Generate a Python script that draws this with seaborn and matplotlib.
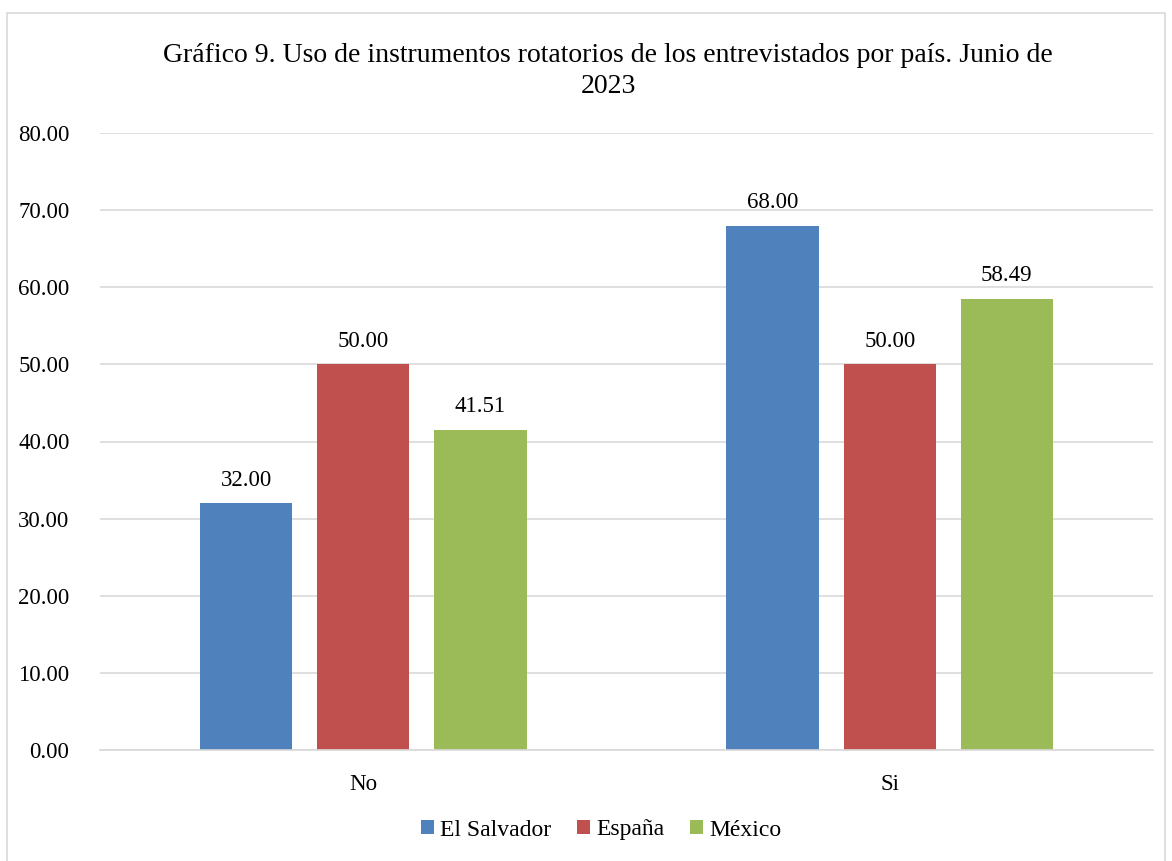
import matplotlib
matplotlib.use("Agg")
import matplotlib.pyplot as plt
import seaborn as sns
import pandas as pd
from matplotlib.patches import Rectangle

categories = ["No", "Si"]
countries = ["El Salvador", "España", "México"]
el_salvador = [32.00, 68.00]
espana = [50.00, 50.00]
mexico = [41.51, 58.49]
colors = ["#4F81BD", "#C0504D", "#9BBB59"]
yticks = [0, 10, 20, 30, 40, 50, 60, 70, 80]
title = "Gráfico 9. Uso de instrumentos rotatorios de los entrevistados por país. Junio de\n2023"

rows = []
for c, vals in zip(countries, [el_salvador, espana, mexico]):
    for cat, v in zip(categories, vals):
        rows.append({"cat": cat, "country": c, "value": v})
df = pd.DataFrame(rows)

sns.set_theme(style="white")
plt.rcParams["font.family"] = ["Liberation Serif", "DejaVu Serif"]

FS = 16.5

fig = plt.figure(figsize=(11.72, 8.61), dpi=100)
ax = fig.add_axes([100/1172, 1-750/861, 1053/1172, (750-133)/861])

sns.barplot(data=df, x="cat", y="value", hue="country", order=categories,
            hue_order=countries, palette=colors, width=0.667, gap=0.21,
            saturation=1, ax=ax, legend=True, errorbar=None, linewidth=0)

for cont in ax.containers:
    ax.bar_label(cont, fmt="%.2f", padding=9, fontsize=FS, color="#000000")

ax.set_ylim(0, 80)
ax.set_yticks(yticks)
ax.set_yticklabels([f"{v:.2f}" for v in yticks], fontsize=FS)
ax.tick_params(axis="x", labelsize=FS, pad=17, length=0, colors="#000000")
ax.tick_params(axis="y", pad=22, length=0, colors="#000000")
ax.set_xlabel("")
ax.set_ylabel("")
ax.grid(axis="y", color="#D9D9D9", linewidth=1.2)
ax.set_axisbelow(True)
for s in ["top", "right", "left"]:
    ax.spines[s].set_visible(False)
ax.spines["bottom"].set_color("#D9D9D9")
ax.spines["bottom"].set_linewidth(1.2)

ax.legend(loc="center", bbox_to_anchor=(601/1172, 1-830/861), bbox_transform=fig.transFigure,
          ncol=3, frameon=False, fontsize=17, handlelength=0.55, handleheight=0.55,
          handletextpad=0.25, columnspacing=1.1, labelcolor="#000000")

fig.text(608/1172, 1-71/861, title, ha="center", va="center", fontsize=20, linespacing=1.3,
         color="#000000")

fig.patches.append(Rectangle((7/1172, -0.01), (1165-7)/1172, 1-13/861+0.01,
                             transform=fig.transFigure, fill=False,
                             edgecolor="#D9D9D9", linewidth=1.2))

fig.savefig("out.png", dpi=100)
